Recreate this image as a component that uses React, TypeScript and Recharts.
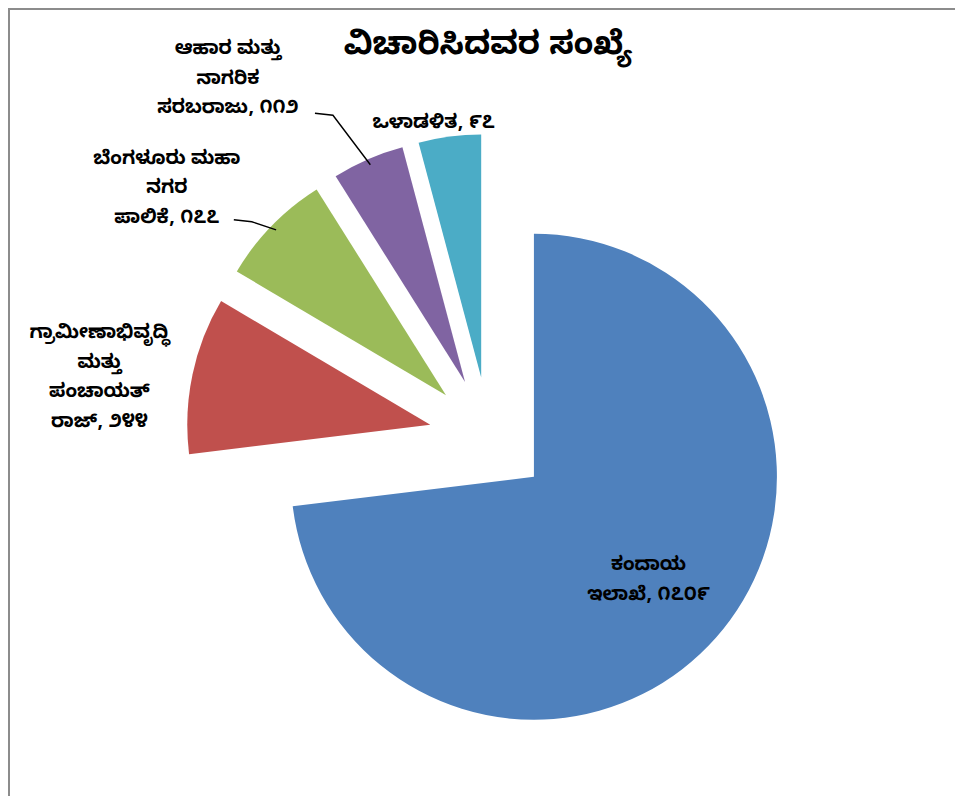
import { PieChart, Pie, Sector } from 'recharts';

const TITLE = 'ವಿಚಾರಿಸಿದವರ ಸಂಖ್ಯೆ';
const CATEGORIES = [
  'ಕಂದಾಯ\nಇಲಾಖೆ',
  'ಗ್ರಾಮೀಣಾಭಿವೃದ್ಧಿ\nಮತ್ತು\nಪಂಚಾಯತ್\nರಾಜ್',
  'ಬೆಂಗಳೂರು ಮಹಾ\nನಗರ\nಪಾಲಿಕೆ',
  'ಆಹಾರ ಮತ್ತು\nನಾಗರಿಕ\nಸರಬರಾಜು',
  'ಒಳಾಡಳಿತ',
];
const VALUES = [1709, 244, 177, 112, 97];
const COLORS = ['#4F81BD', '#C0504D', '#9BBB59', '#8064A2', '#4BACC6'];

// label block offsets from the slice's outer point; null = inside the slice
const LABEL_POS: ({ dx: number; dy: number; leader?: [number, number] } | null)[] = [
  null,
  { dx: -93, dy: 1 },
  { dx: -105, dy: -39, leader: [67, 33] },
  { dx: -140, dy: -82, leader: [87, 36] },
  { dx: -16, dy: -15 },
];

const KN_DIGITS = '೦೧೨೩೪೫೬೭೮೯';
const toKannada = (n: number) => String(n).replace(/\d/g, d => KN_DIGITS[+d]);

const RADIAN = Math.PI / 180;
const EXPLODE = 60;
const RADIUS = 243;
const LINE_H = 29.5;
const FONT = "'Noto Sans Kannada', 'Noto Sans', 'DejaVu Sans', sans-serif";

const data = CATEGORIES.map((name, i) => ({ name, value: VALUES[i], fill: COLORS[i] }));

function ExplodedSlice(props: any) {
  const { cx, cy, midAngle, innerRadius, outerRadius, startAngle, endAngle, fill } = props;
  const dx = EXPLODE * Math.cos(-midAngle * RADIAN);
  const dy = EXPLODE * Math.sin(-midAngle * RADIAN);
  return (
    <Sector
      cx={cx + dx}
      cy={cy + dy}
      innerRadius={innerRadius}
      outerRadius={outerRadius}
      startAngle={startAngle}
      endAngle={endAngle}
      fill={fill}
      stroke="none"
    />
  );
}

function SliceLabel(props: any) {
  const { cx, cy, midAngle, outerRadius, index, name, value } = props;
  const cos = Math.cos(-midAngle * RADIAN);
  const sin = Math.sin(-midAngle * RADIAN);
  const ex = cx + EXPLODE * cos;
  const ey = cy + EXPLODE * sin;
  const lines = String(name).split('\n');
  lines[lines.length - 1] += ', ' + toKannada(value);
  const pos = LABEL_POS[index];
  let x: number, y: number;
  if (!pos) {
    x = ex + outerRadius * 0.63 * cos;
    y = ey + outerRadius * 0.63 * sin;
  } else {
    x = ex + outerRadius * cos + pos.dx;
    y = ey + outerRadius * sin + pos.dy;
  }
  const top = y - ((lines.length - 1) * LINE_H) / 2;
  let leader = null;
  if (pos && pos.leader) {
    const sx = x + pos.leader[0];
    const sy = y + pos.leader[1];
    const px = ex + (outerRadius - 6) * cos;
    const py = ey + (outerRadius - 6) * sin;
    leader = (
      <polyline
        points={`${sx},${sy} ${sx + 18},${sy + 2} ${px},${py}`}
        fill="none"
        stroke="#000"
        strokeWidth={1.4}
      />
    );
  }
  return (
    <g>
      {leader}
      <text textAnchor="middle" fontFamily={FONT} fontWeight="bold" fontSize={19} fill="#000">
        {lines.map((l, i) => (
          <tspan key={i} x={x} y={top + i * LINE_H} dy="0.35em">
            {l}
          </tspan>
        ))}
      </text>
    </g>
  );
}

export default function App() {
  return (
    <div
      style={{
        position: 'relative',
        width: 955,
        height: 788,
        borderLeft: '2px solid #8c8c8c',
        borderTop: '2px solid #8c8c8c',
        boxSizing: 'border-box',
        background: '#fff',
      }}
    >
      <div
        style={{
          position: 'absolute',
          left: 178,
          top: 18,
          width: 600,
          lineHeight: '44px',
          textAlign: 'center',
          fontFamily: FONT,
          fontWeight: 'bold',
          fontSize: 32,
          color: '#000',
        }}
      >
        {TITLE}
      </div>
      <PieChart width={945} height={778} margin={{ top: 0, right: 0, bottom: 0, left: 0 }}>
        <Pie
          data={data}
          dataKey="value"
          nameKey="name"
          cx={479}
          cy={427}
          outerRadius={RADIUS}
          startAngle={90}
          endAngle={-270}
          stroke="none"
          shape={ExplodedSlice}
          label={SliceLabel}
          labelLine={false}
          isAnimationActive={false}
        />
      </PieChart>
    </div>
  );
}
